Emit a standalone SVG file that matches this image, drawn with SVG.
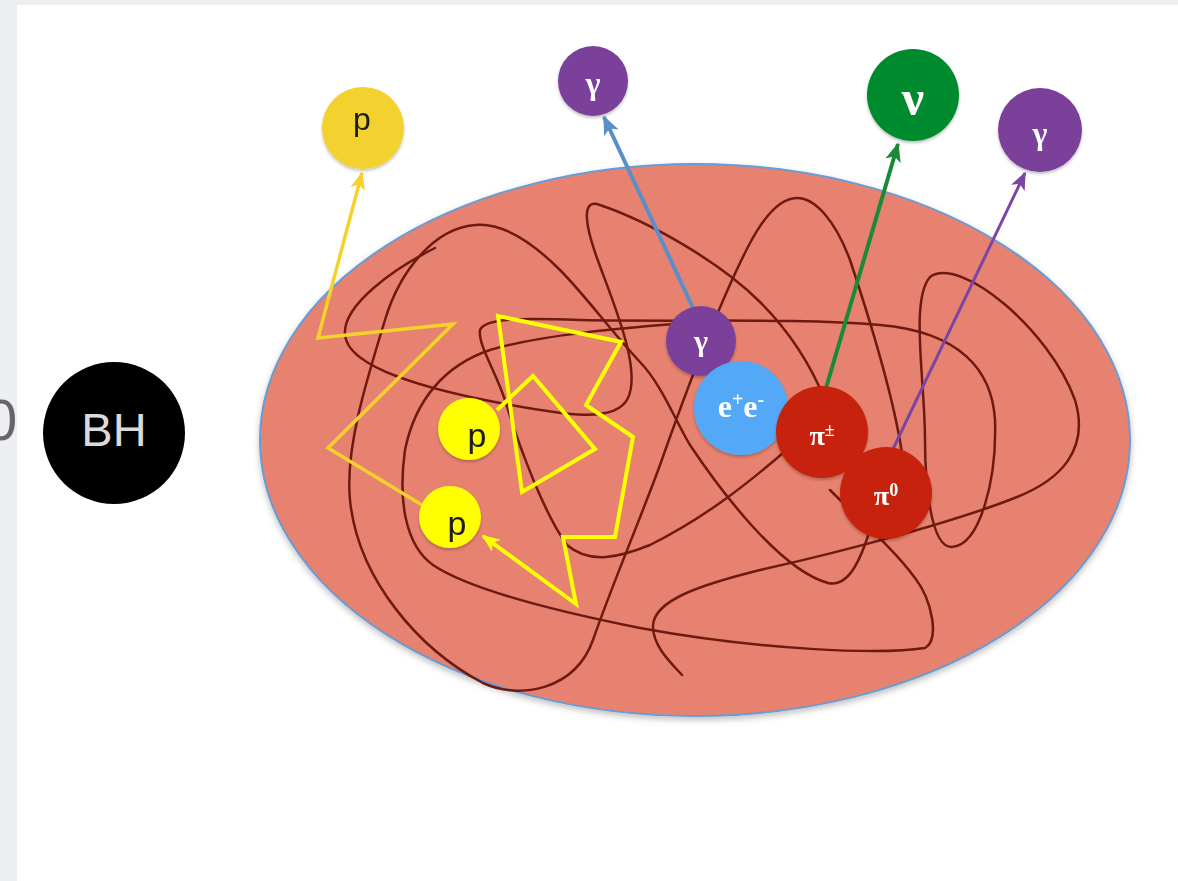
<svg xmlns="http://www.w3.org/2000/svg" width="1178" height="881" viewBox="0 0 1178 881">
<style>
.scr{fill:none;stroke:#6e1a10;stroke-width:2.5;stroke-linecap:round;stroke-linejoin:round}
.gk{font-family:"Liberation Serif","DejaVu Serif",serif;font-weight:bold;fill:#fff;text-anchor:middle}
.pl{font-family:"Liberation Sans","DejaVu Sans",sans-serif;fill:#1a1a1a;text-anchor:middle}
.node{filter:url(#sh)}
</style>
<defs>
<filter id="sh" x="-20%" y="-20%" width="140%" height="150%"><feDropShadow dx="0" dy="2" stdDeviation="1.5" flood-color="#000" flood-opacity="0.25"/></filter>
<filter id="sh2" x="-10%" y="-10%" width="120%" height="125%"><feDropShadow dx="0" dy="3" stdDeviation="3" flood-color="#000" flood-opacity="0.25"/></filter>
<marker id="aBlue" viewBox="0 0 12 10" refX="11" refY="5" markerWidth="20" markerHeight="16" markerUnits="userSpaceOnUse" orient="auto"><path d="M0,0 L12,5 L0,10 L3,5 Z" fill="#5b8ec8"/></marker>
<marker id="aGreen" viewBox="0 0 12 10" refX="11" refY="5" markerWidth="20" markerHeight="16" markerUnits="userSpaceOnUse" orient="auto"><path d="M0,0 L12,5 L0,10 L3,5 Z" fill="#1a8a38"/></marker>
<marker id="aPurple" viewBox="0 0 12 10" refX="11" refY="5" markerWidth="18" markerHeight="15" markerUnits="userSpaceOnUse" orient="auto"><path d="M0,0 L12,5 L0,10 L3,5 Z" fill="#7b45a5"/></marker>
<marker id="aGold" viewBox="0 0 12 10" refX="11" refY="5" markerWidth="18" markerHeight="15" markerUnits="userSpaceOnUse" orient="auto"><path d="M0,0 L12,5 L0,10 L3,5 Z" fill="#f5d12c"/></marker>
<marker id="aYel" viewBox="0 0 12 10" refX="11" refY="5" markerWidth="18" markerHeight="15" markerUnits="userSpaceOnUse" orient="auto"><path d="M0,0 L12,5 L0,10 L3,5 Z" fill="#ffff00"/></marker>
</defs>
<rect x="0" y="0" width="1178" height="881" fill="#eceef2"/>
<rect x="17" y="5" width="1161" height="876" fill="#ffffff"/>
<text x="-15" y="440" font-family="Liberation Sans, sans-serif" font-size="58" fill="#666">0</text>

<g id="plasma">
<ellipse cx="695" cy="440" rx="435" ry="276" fill="#e8826f" stroke="#6a9bd2" stroke-width="2" filter="url(#sh2)"/>
<path class="scr" d="M435,248 C395,268 342,305 345,335 C348,368 430,390 500,403 C560,414 615,425 628,398 C642,368 612,300 597,258 C584,222 582,198 600,205 C650,222 720,262 760,302 C790,332 812,368 825,400"/>
<path class="scr" d="M870,530 C862,555 850,588 828,583 C780,570 720,490 690,445 C675,420 662,385 640,362 C610,330 585,295 560,270 C535,245 505,222 475,225 C435,228 400,270 385,320 C365,385 345,450 350,500 C358,580 420,650 483,683 C520,700 575,690 593,640 C610,590 640,520 660,465 C690,380 720,300 750,243 C765,215 780,198 797,198 C815,198 835,220 850,260 C870,320 895,400 903,460 C908,500 905,520 900,530"/>
<path class="scr" d="M783,453 C740,490 700,520 650,545 C620,557 590,565 567,545 C545,515 520,450 505,400 C495,370 478,345 480,330 C485,318 520,318 580,320 C680,322 800,318 880,325 C960,332 992,370 995,420 C997,480 980,545 952,547 C930,548 925,480 925,440 C925,380 910,300 930,277 C960,255 1050,330 1075,400 C1090,450 1060,480 1017,497 C960,520 850,550 760,570 C700,585 655,600 653,625 C652,645 670,662 682,675"/>
<path class="scr" d="M700,322 C620,328 540,335 490,350 C445,365 415,400 405,450 C398,500 405,545 433,565 C470,590 560,612 640,628 C760,650 880,655 925,648 C940,640 932,600 915,578 C895,550 860,520 830,490"/>
</g>

<g id="connectors" fill="none" stroke-linejoin="miter">
<polyline points="427,508 328,448 453,324 318,338 362,173" stroke="#f5d12c" stroke-width="3.5" marker-end="url(#aGold)"/>
<polyline points="497,410 533,376 595,449 522,492 498,316 621,342 586,405 633,437 615,537 563,537 576,604 483,536" stroke="#ffff00" stroke-width="4" marker-end="url(#aYel)"/>
<line x1="693" y1="308" x2="604" y2="117" stroke="#5b8ec8" stroke-width="4" marker-end="url(#aBlue)"/>
<line x1="826" y1="388" x2="898" y2="144" stroke="#1a8a38" stroke-width="4" marker-end="url(#aGreen)"/>
<line x1="893" y1="449" x2="1025" y2="173" stroke="#7b45a5" stroke-width="3" marker-end="url(#aPurple)"/>
</g>

<g id="bh"><circle cx="114" cy="433" r="71" fill="#000"/><text x="114" y="446" font-family="Liberation Sans, sans-serif" font-size="47" fill="#dadada" text-anchor="middle">BH</text></g>
<g id="p-out" class="node"><circle cx="363" cy="128" r="41" fill="#f3d12e"/><text class="pl" x="362" y="130" font-size="32" fill="#333">p</text></g>
<g id="gamma-1" class="node"><circle cx="593" cy="81" r="35" fill="#7a3f9a"/><text class="gk" x="593" y="94" font-size="32">γ</text></g>
<g id="nu" class="node"><circle cx="913" cy="95" r="46" fill="#028a2e"/><text class="gk" x="913" y="115" font-size="50">ν</text></g>
<g id="gamma-2" class="node"><circle cx="1040" cy="130" r="42" fill="#7a3f9a"/><text class="gk" x="1040" y="144" font-size="32">γ</text></g>
<g id="gamma-in" class="node"><circle cx="701" cy="341" r="35" fill="#7a3f9a"/><text class="gk" x="701" y="351" font-size="30">γ</text></g>
<g id="ee" class="node"><circle cx="741" cy="408" r="47" fill="#52a8f8"/><text class="gk" x="741" y="417" font-size="32">e<tspan dy="-11" font-size="20">+</tspan><tspan dy="11" font-size="32">e</tspan><tspan dy="-11" font-size="20">-</tspan></text></g>
<g id="pi-pm" class="node"><circle cx="822" cy="432" r="46" fill="#c62207"/><text class="gk" x="822" y="445" font-size="28">π<tspan dy="-9" font-size="18">±</tspan></text></g>
<g id="pi-0" class="node"><circle cx="886" cy="493" r="46" fill="#c62207"/><text class="gk" x="886" y="505" font-size="28">π<tspan dy="-9" font-size="18">0</tspan></text></g>
<g id="p-1" class="node"><circle cx="469" cy="429" r="31" fill="#ffff00"/><text class="pl" x="477" y="447" font-size="34">p</text></g>
<g id="p-2" class="node"><circle cx="450" cy="517" r="31" fill="#ffff00"/><text class="pl" x="457" y="535" font-size="34">p</text></g>
</svg>
